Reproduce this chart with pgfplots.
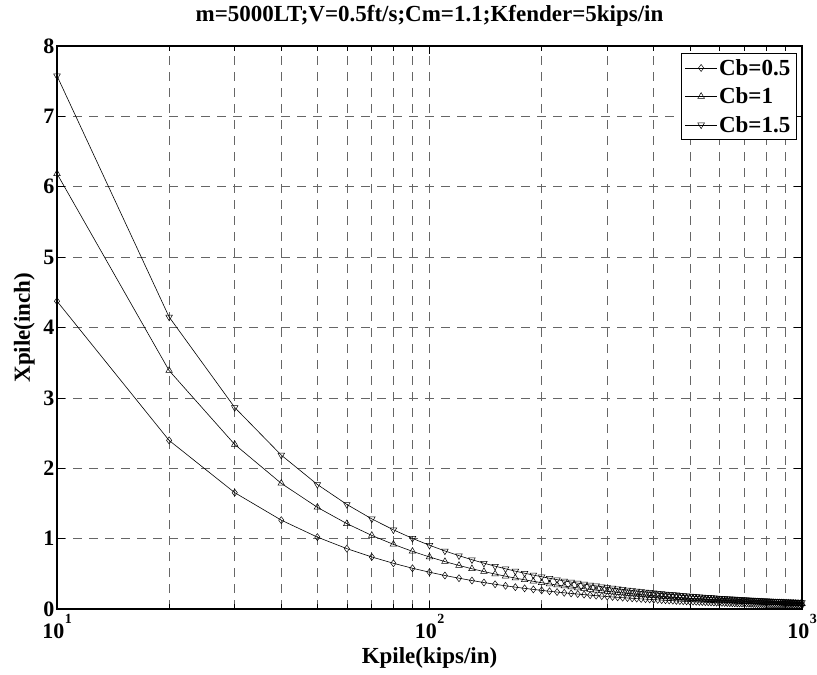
\documentclass[border=0pt]{standalone}
\usepackage{fontspec}
\setmainfont{Liberation Serif}
\usepackage{pgfplots}
\usepackage{pgfplotstable}
\pgfplotsset{compat=1.18}

\pgfplotstableread{
K a b c
10 4.3739 6.1856 7.5757
20 2.3957 3.3880 4.1494
30 1.6532 2.3379 2.8633
40 1.2626 1.7856 2.1869
50 1.0215 1.4446 1.7693
60 0.8578 1.2131 1.4857
70 0.7393 1.0455 1.2805
80 0.6496 0.9187 1.1252
90 0.5793 0.8193 1.0034
100 0.5228 0.7393 0.9055
110 0.4763 0.6736 0.8250
120 0.4374 0.6186 0.7576
130 0.4044 0.5719 0.7004
140 0.3760 0.5317 0.6512
150 0.3513 0.4968 0.6085
160 0.3297 0.4662 0.5710
170 0.3106 0.4392 0.5379
180 0.2935 0.4151 0.5084
190 0.2783 0.3936 0.4821
200 0.2645 0.3741 0.4582
210 0.2521 0.3565 0.4366
220 0.2408 0.3405 0.4170
230 0.2304 0.3258 0.3991
240 0.2209 0.3124 0.3826
250 0.2122 0.3000 0.3675
260 0.2041 0.2886 0.3535
270 0.1966 0.2780 0.3405
280 0.1896 0.2682 0.3284
290 0.1831 0.2590 0.3172
300 0.1771 0.2504 0.3067
310 0.1714 0.2424 0.2969
320 0.1661 0.2349 0.2877
330 0.1611 0.2278 0.2790
340 0.1564 0.2212 0.2709
350 0.1520 0.2149 0.2632
360 0.1478 0.2090 0.2559
370 0.1438 0.2034 0.2491
380 0.1400 0.1981 0.2426
390 0.1365 0.1930 0.2364
400 0.1331 0.1882 0.2305
410 0.1299 0.1837 0.2249
420 0.1268 0.1793 0.2196
430 0.1239 0.1752 0.2145
440 0.1211 0.1712 0.2097
450 0.1184 0.1674 0.2050
460 0.1158 0.1638 0.2006
470 0.1134 0.1603 0.1964
480 0.1110 0.1570 0.1923
490 0.1088 0.1538 0.1884
500 0.1066 0.1508 0.1846
510 0.1045 0.1478 0.1810
520 0.1025 0.1450 0.1776
530 0.1006 0.1423 0.1742
540 0.0987 0.1396 0.1710
550 0.0970 0.1371 0.1679
560 0.0952 0.1347 0.1649
570 0.0936 0.1323 0.1621
580 0.0920 0.1301 0.1593
590 0.0904 0.1279 0.1566
600 0.0889 0.1257 0.1540
610 0.0875 0.1237 0.1515
620 0.0861 0.1217 0.1491
630 0.0847 0.1198 0.1467
640 0.0834 0.1179 0.1444
650 0.0821 0.1161 0.1422
660 0.0809 0.1144 0.1400
670 0.0797 0.1127 0.1380
680 0.0785 0.1110 0.1359
690 0.0774 0.1094 0.1340
700 0.0763 0.1078 0.1321
710 0.0752 0.1063 0.1302
720 0.0741 0.1049 0.1284
730 0.0731 0.1034 0.1267
740 0.0721 0.1020 0.1250
750 0.0712 0.1007 0.1233
760 0.0703 0.0994 0.1217
770 0.0693 0.0981 0.1201
780 0.0685 0.0968 0.1186
790 0.0676 0.0956 0.1171
800 0.0668 0.0944 0.1156
810 0.0659 0.0932 0.1142
820 0.0651 0.0921 0.1128
830 0.0644 0.0910 0.1115
840 0.0636 0.0899 0.1101
850 0.0628 0.0889 0.1088
860 0.0621 0.0878 0.1076
870 0.0614 0.0868 0.1063
880 0.0607 0.0858 0.1051
890 0.0600 0.0849 0.1040
900 0.0594 0.0839 0.1028
910 0.0587 0.0830 0.1017
920 0.0581 0.0821 0.1006
930 0.0574 0.0812 0.0995
940 0.0568 0.0804 0.0984
950 0.0562 0.0795 0.0974
960 0.0557 0.0787 0.0964
970 0.0551 0.0779 0.0954
980 0.0545 0.0771 0.0944
990 0.0540 0.0763 0.0935
1000 0.0534 0.0756 0.0926
}\datatable

\newcommand{\tenexp}[1]{\textbf{10\kern0.5pt\raisebox{15pt}{\fontsize{14}{14}\selectfont #1}}}

\begin{document}
\begin{tikzpicture}
\useasboundingbox (-57pt,-66pt) rectangle (760pt,609pt);
\begin{axis}[
  scale only axis,
  width=745pt, height=563pt,
  xmode=log, log basis x=10,
  xmin=10, xmax=1000, ymin=0, ymax=8,
  xtick={10,100,1000},
  xticklabels={\tenexp{1},\tenexp{2},\tenexp{3}},
  minor xtick={20,30,40,50,60,70,80,90,200,300,400,500,600,700,800,900},
  ytick={0,1,2,3,4,5,6,7,8},
  yticklabel={\textbf{\pgfmathprintnumber{\tick}}},
  /pgf/number format/assume math mode=true,
  tick label style={font=\fontsize{22}{24}\selectfont\bfseries},
  xticklabel style={yshift=-2pt},
  yticklabel style={xshift=1pt},
  grid=both,
  major grid style={draw=black!60, dash pattern=on 9pt off 7pt, line width=0.7pt},
  minor grid style={draw=black!60, dash pattern=on 9pt off 7pt, line width=0.7pt},
  tick align=inside,
  major tick length=8pt, minor tick length=5pt,
  tick style={black, line width=0.6pt},
  axis line style={line width=1.5pt},
  title={\textbf{m=5000LT;V=0.5ft/s;Cm=1.1;Kfender=5kips/in}},
  title style={font=\fontsize{23}{26}\selectfont, at={(axis description cs:0.5,1.043)}, anchor=center},
  xlabel={\textbf{Kpile(kips/in)}},
  xlabel style={font=\fontsize{23}{26}\selectfont, at={(axis description cs:0.5,-0.087)}, anchor=center},
  ylabel={\textbf{Xpile(inch)}},
  ylabel style={font=\fontsize{23}{26}\selectfont, at={(axis description cs:-0.044,0.5)}, anchor=center},
  legend style={at={(axis description cs:0.993,0.988)}, anchor=north east,
    font=\fontsize{23}{27}\selectfont\bfseries, draw=black, line width=0.9pt,
    fill=white, inner xsep=4pt, inner ysep=4pt, row sep=7pt},
  legend cell align=left,
  legend image code/.code={\draw[mark repeat=2,mark phase=2] plot coordinates {(0cm,0cm) (0.55cm,0cm) (1.1cm,0cm)};},
  every axis plot/.append style={black, line width=0.6pt},
]
\addplot[mark=diamond, mark size=3.5pt, mark options={solid, fill=white, line width=0.5pt}] table[x=K, y=a] {\datatable};
\addlegendentry{Cb=0.5}
\addplot[mark=triangle, mark size=3.8pt, mark options={solid, fill=white, line width=0.5pt}] table[x=K, y=b] {\datatable};
\addlegendentry{Cb=1}
\addplot[mark=triangle, mark size=3.8pt, mark options={solid, fill=white, line width=0.5pt, rotate=180}] table[x=K, y=c] {\datatable};
\addlegendentry{Cb=1.5}
\end{axis}
\end{tikzpicture}
\end{document}
